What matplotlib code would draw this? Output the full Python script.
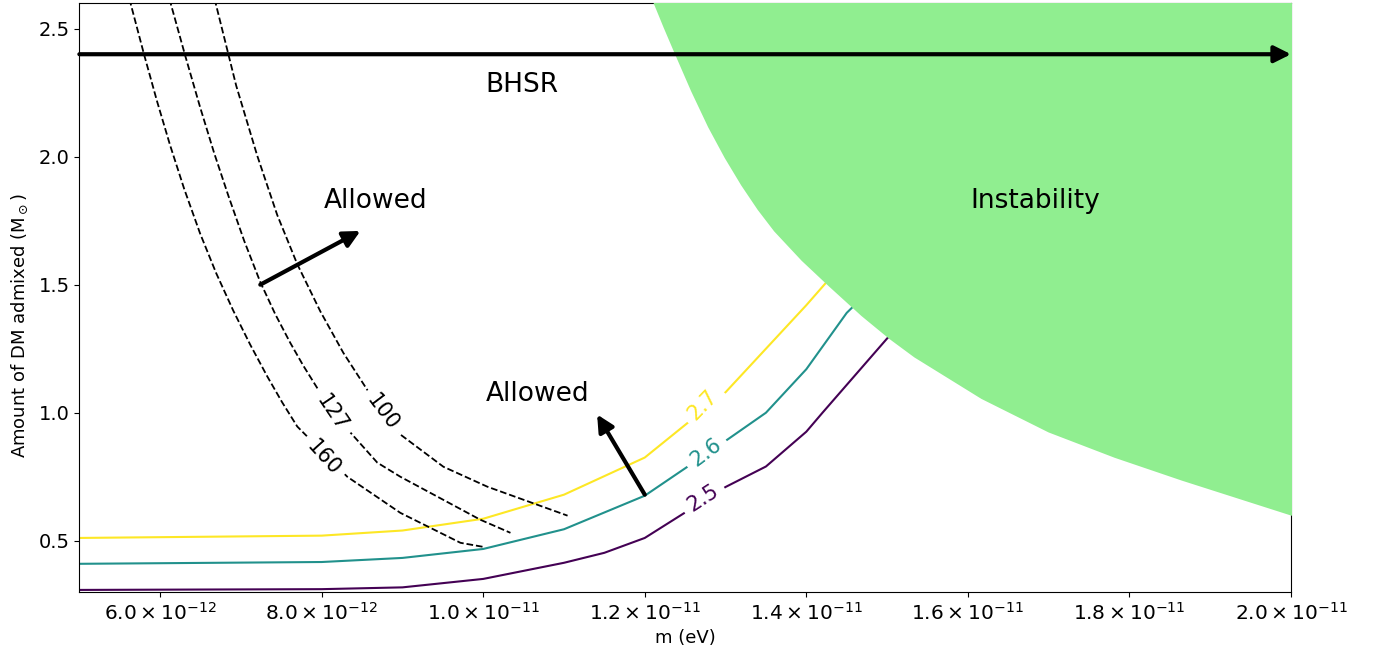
import numpy as np
import matplotlib
matplotlib.use("Agg")
import matplotlib.pyplot as plt
from matplotlib.ticker import FuncFormatter

# masa en unidades de 1e-12 eV
# curvas de nivel (2.5, 2.6, 2.7)
niveles = ["2.5", "2.6", "2.7"]
colores = ["#440154", "#21918c", "#fde725"]
m_25 = [5, 8, 9, 10, 11, 11.5, 12, 13, 13.5, 14, 14.2, 15, 15.5]
y_25 = [0.308, 0.311, 0.318, 0.351, 0.414, 0.453, 0.511, 0.71, 0.79, 0.926, 1.0, 1.29, 1.45]
m_26 = [5, 8, 9, 10, 11, 12, 13, 13.5, 14, 14.5, 15.5]
y_26 = [0.41, 0.417, 0.433, 0.468, 0.545, 0.676, 0.89, 1.0, 1.17, 1.39, 1.7]
m_27 = [5, 8, 9, 10, 11, 12, 13, 14, 14.5, 15]
y_27 = [0.511, 0.52, 0.54, 0.586, 0.68, 0.825, 1.08, 1.42, 1.6, 1.8]

# curvas discontinuas (100, 127, 160)
m_160 = [5.591, 5.628, 5.802, 5.963, 6.124, 6.298, 6.496, 6.694, 6.905, 7.115, 7.326, 7.512, 7.698,
         8.317, 8.974, 9.718, 10.003]
y_160 = [2.649, 2.606, 2.398, 2.215, 2.044, 1.874, 1.699, 1.545, 1.399, 1.266, 1.142, 1.040, 0.946,
         0.750, 0.609, 0.492, 0.476]
m_127 = [6.099, 6.124, 6.310, 6.496, 6.669, 6.843, 7.041, 7.239, 7.425, 7.611, 7.772, 7.946, 8.355,
         8.689, 8.974, 9.965, 10.337]
y_127 = [2.649, 2.606, 2.395, 2.192, 2.014, 1.849, 1.671, 1.511, 1.385, 1.273, 1.184, 1.096, 0.923,
         0.805, 0.750, 0.582, 0.531]
m_100 = [6.657, 6.682, 6.942, 7.203, 7.450, 7.698, 7.983, 8.268, 8.565, 8.974, 9.507, 10.052, 11.044]
y_100 = [2.649, 2.606, 2.277, 2.003, 1.772, 1.580, 1.396, 1.234, 1.089, 0.915, 0.789, 0.711, 0.598]

# frontera de inestabilidad
m_inst = [12.023, 12.097, 12.227, 12.357, 12.568, 12.778, 12.983, 13.187, 13.392, 13.596, 13.937,
          14.278, 14.675, 15.022, 15.331, 16.161, 16.993, 17.811, 18.641, 20.029]
y_inst = [2.665, 2.606, 2.506, 2.410, 2.257, 2.117, 1.997, 1.890, 1.794, 1.710, 1.595,
          1.494, 1.380, 1.290, 1.218, 1.056, 0.925, 0.826, 0.737, 0.597]

esc = 1e-12

fig = plt.figure(figsize=(13.8, 6.56), dpi=100)
ax = fig.add_axes([0.0575, 0.0976, 0.878, 0.8978])

for m, y, c in zip([m_25, m_26, m_27], [y_25, y_26, y_27], colores):
    ax.plot(np.array(m) * esc, y, color=c, lw=1.5, zorder=2)

for m, y in zip([m_160, m_127, m_100], [y_160, y_127, y_100]):
    ax.plot(np.array(m) * esc, y, color="black", ls="--", lw=1.3, zorder=2)

ax.fill_between(np.array(m_inst) * esc, y_inst, 2.7, color="lightgreen", lw=0, zorder=3)

# etiquetas de las curvas
caja = dict(facecolor="white", edgecolor="none", pad=5)
pos_lab = [(12.72, 0.668, 33), (12.76, 0.844, 37), (12.72, 1.032, 46)]
for (mx, yy, rot), txt, c in zip(pos_lab, niveles, colores):
    ax.text(mx * esc, yy, txt, color=c, fontsize=15, rotation=rot, ha="center", va="center",
            rotation_mode="anchor", bbox=caja, zorder=2.5)
for mx, yy, rot, txt in [(8.02, 0.825, -48, "160"), (8.13, 1.0, -56, "127"), (8.75, 1.0, -53, "100")]:
    ax.text(mx * esc, yy, txt, color="black", fontsize=15, rotation=rot, ha="center", va="center",
            rotation_mode="anchor", bbox=caja, zorder=2.5)

# flechas
flecha = dict(arrowstyle="-|>", lw=3, color="black", mutation_scale=25, shrinkA=0, shrinkB=0)
ax.annotate("", xy=(2.0e-11, 2.4), xytext=(5e-12, 2.4), arrowprops=flecha, zorder=5)
ax.annotate("", xy=(8.48e-12, 1.71), xytext=(7.24e-12, 1.50), arrowprops=flecha, zorder=5)
ax.annotate("", xy=(1.141e-11, 0.993), xytext=(1.2e-11, 0.68), arrowprops=flecha, zorder=5)

ax.text(1.048e-11, 2.28, "BHSR", fontsize=19, ha="center", va="center", zorder=5)
ax.text(8.67e-12, 1.825, "Allowed", fontsize=19, ha="center", va="center", zorder=5)
ax.text(1.067e-11, 1.075, "Allowed", fontsize=19, ha="center", va="center", zorder=5)
ax.text(1.684e-11, 1.825, "Instability", fontsize=19, ha="center", va="center", zorder=5)

ax.set_xlim(5e-12, 2e-11)
ax.set_ylim(0.3, 2.6)
ax.set_xticks(np.arange(6, 21, 2) * esc)
ax.set_yticks([0.5, 1.0, 1.5, 2.0, 2.5])


def fmt(v, pos):
    e = int(np.floor(np.log10(v) + 1e-9))
    return r"$%.1f\times10^{%d}$" % (v / 10 ** e, e)


ax.xaxis.set_major_formatter(FuncFormatter(fmt))
ax.tick_params(axis="x", labelsize=14.5)
ax.tick_params(axis="y", labelsize=14)
ax.set_xlabel("m (eV)", fontsize=13)
ax.set_ylabel(r"Amount of DM admixed (M$_\odot$)", fontsize=13)
ax.yaxis.set_label_coords(-0.041, 0.453)

plt.savefig("out.png", dpi=100)
